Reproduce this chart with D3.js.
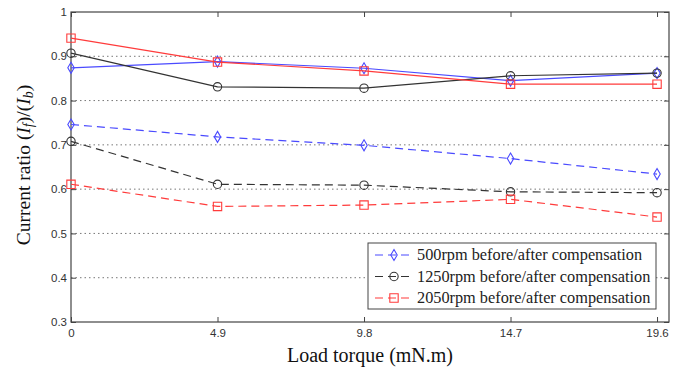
<!DOCTYPE html>
<html><head><meta charset="utf-8">
<script src="https://cdn.jsdelivr.net/npm/d3@7"></script>
<style>body{margin:0;background:#fff;} svg{display:block;}</style>
</head><body>
<svg id="chart" width="684" height="375"></svg>
<script>
const xValues = [0, 4.9, 9.8, 14.7, 19.6];
const xTickLabels = ["0", "4.9", "9.8", "14.7", "19.6"];
const yTicks = [0.3, 0.4, 0.5, 0.6, 0.7, 0.8, 0.9, 1];
const yTickLabels = ["0.3", "0.4", "0.5", "0.6", "0.7", "0.8", "0.9", "1"];

const rpm500Before = [0.874, 0.888, 0.873, 0.845, 0.862];
const rpm500After = [0.746, 0.718, 0.699, 0.669, 0.634];
const rpm1250Before = [0.907, 0.831, 0.828, 0.856, 0.862];
const rpm1250After = [0.708, 0.611, 0.609, 0.594, 0.592];
const rpm2050Before = [0.941, 0.887, 0.867, 0.837, 0.837];
const rpm2050After = [0.611, 0.561, 0.564, 0.577, 0.537];

const seriesNames = ["500rpm before/after compensation", "1250rpm before/after compensation", "2050rpm before/after compensation"];
const seriesColors = ["#4a4aff", "#333333", "#ff3b3b"];
const seriesMarkers = ["diamond", "circle", "square"];

const svg = d3.select("#chart");
const L = 71, R = 669, T = 12, B = 322;
const x = d3.scaleLinear().domain([0, 20]).range([L, R]);
const y = d3.scaleLinear().domain([0.3, 1]).range([B, T]);

// grid
svg.append("g").selectAll("line").data(yTicks.filter(v => v > 0.3 && v < 1)).join("line")
  .attr("x1", L).attr("x2", R).attr("y1", d => y(d)).attr("y2", d => y(d))
  .attr("stroke", "#777").attr("stroke-width", 1).attr("stroke-dasharray", "1.5,3");

// axes (ticks inside)
const axisColor = "#444";
const xAxis = d3.axisBottom(x).tickValues(xValues).tickFormat((d, i) => xTickLabels[i]).tickSize(-5).tickPadding(7);
const yAxis = d3.axisLeft(y).tickValues(yTicks).tickFormat((d, i) => yTickLabels[i]).tickSize(-5).tickPadding(4);
const gx = svg.append("g").attr("transform", `translate(0,${B})`).call(xAxis);
const gy = svg.append("g").attr("transform", `translate(${L},0)`).call(yAxis);
const gxt = svg.append("g").attr("transform", `translate(0,${T})`).call(d3.axisTop(x).tickValues(xValues).tickFormat("").tickSize(-5));
const gyr = svg.append("g").attr("transform", `translate(${R},0)`).call(d3.axisRight(y).tickValues(yTicks).tickFormat("").tickSize(-5));
[gx, gy, gxt, gyr].forEach(g => {
  g.select(".domain").remove();
  g.selectAll("line").attr("stroke", axisColor);
  g.selectAll("text").attr("fill", "#333").style("font-family", "Liberation Sans, Arial, sans-serif").style("font-size", "11.5px");
});
svg.append("rect").attr("x", L).attr("y", T).attr("width", R - L).attr("height", B - T)
  .attr("fill", "none").attr("stroke", axisColor).attr("stroke-width", 1.2);

const sym = {
  circle: d3.symbol().type(d3.symbolCircle).size(55),
  square: d3.symbol().type(d3.symbolSquare).size(70)
};
function markerPath(type) {
  if (type === "diamond") return "M0,-5.5L3.2,0L0,5.5L-3.2,0Z";
  return sym[type]();
}

const allSeries = [
  {vals: rpm500Before, i: 0, dash: null},
  {vals: rpm1250Before, i: 1, dash: null},
  {vals: rpm2050Before, i: 2, dash: null},
  {vals: rpm500After, i: 0, dash: "8,5"},
  {vals: rpm1250After, i: 1, dash: "8,5"},
  {vals: rpm2050After, i: 2, dash: "8,5"}
];
const line = d3.line().x((d, j) => x(xValues[j])).y(d => y(d));
allSeries.forEach(s => {
  const c = seriesColors[s.i];
  svg.append("path").datum(s.vals).attr("d", line).attr("fill", "none")
    .attr("stroke", c).attr("stroke-width", 1.2).attr("stroke-dasharray", s.dash);
  svg.append("g").selectAll("path").data(s.vals).join("path")
    .attr("transform", (d, j) => `translate(${x(xValues[j])},${y(d)})`)
    .attr("d", markerPath(seriesMarkers[s.i]))
    .attr("fill", "none").attr("stroke", c).attr("stroke-width", 1.1);
});

// legend
const lg = svg.append("g");
lg.append("rect").attr("x", 368).attr("y", 243).attr("width", 288).attr("height", 66)
  .attr("fill", "#fff").attr("stroke", axisColor).attr("stroke-width", 1);
seriesNames.forEach((name, i) => {
  const ly = 255 + i * 21.5;
  lg.append("line").attr("x1", 375).attr("x2", 413).attr("y1", ly).attr("y2", ly)
    .attr("stroke", seriesColors[i]).attr("stroke-width", 1.2).attr("stroke-dasharray", "8,5");
  lg.append("path").attr("transform", `translate(394,${ly})`).attr("d", markerPath(seriesMarkers[i]))
    .attr("fill", "none").attr("stroke", seriesColors[i]).attr("stroke-width", 1.1);
  lg.append("text").attr("x", 417).attr("y", ly + 5).text(name)
    .style("font-family", "Liberation Serif, Times New Roman, serif").style("font-size", "16.3px").attr("fill", "#222");
});

// axis titles
svg.append("text").attr("x", (L + R) / 2).attr("y", 362).attr("text-anchor", "middle")
  .style("font-family", "Liberation Serif, Times New Roman, serif").style("font-size", "20px").attr("fill", "#111")
  .text("Load torque (mN.m)");
const yl = svg.append("text").attr("transform", `translate(30,165) rotate(-90)`).attr("text-anchor", "middle")
  .style("font-family", "Liberation Serif, Times New Roman, serif").style("font-size", "19.5px").attr("fill", "#111");
yl.append("tspan").text("Current ratio (");
yl.append("tspan").attr("font-style", "italic").text("I");
yl.append("tspan").attr("font-style", "italic").attr("font-size", "14px").attr("dy", 3).text("f");
yl.append("tspan").attr("dy", -3).text(")/(");
yl.append("tspan").attr("font-style", "italic").text("I");
yl.append("tspan").attr("font-style", "italic").attr("font-size", "14px").attr("dy", 3).text("b");
yl.append("tspan").attr("dy", -3).text(")");
</script>
</body></html>
